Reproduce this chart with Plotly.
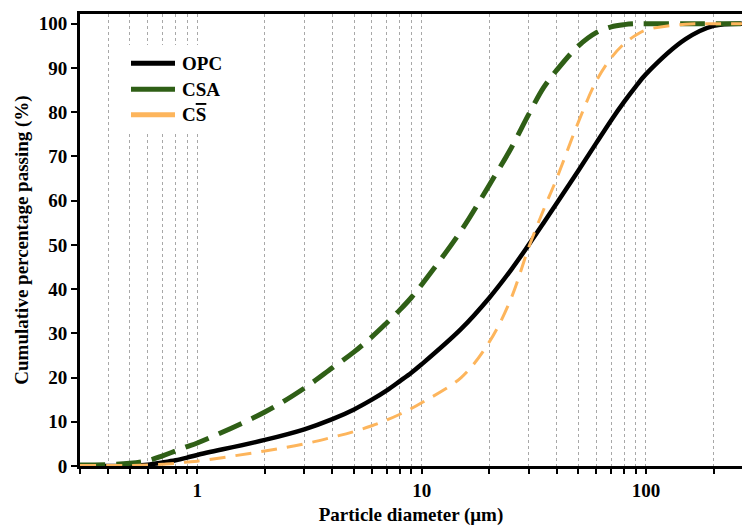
import plotly.graph_objects as go

diam = [0.3, 0.4, 0.5, 0.6, 0.7, 0.8, 0.9, 1, 2, 3, 4, 5, 6, 7, 8, 9, 10,
        15, 20, 25, 30, 35, 40, 50, 60, 70, 80, 90, 100, 150, 200, 268]
opc = [0, 0, 0, 0.3, 0.8, 1.3, 1.9, 2.5, 5.9, 8.3, 10.6, 12.8, 15.0, 17.1, 19.2, 21.1, 23,
       31, 38, 44.3, 50, 55, 59.4, 66.8, 73, 78.2, 82.4, 85.8, 88.6, 96.5, 99.5, 100]
csa = [0.2, 0.3, 0.6, 1.2, 2.3, 3.4, 4.4, 5.2, 12.2, 17.6, 22.2, 25.8, 29.2, 32.4, 35.3, 38.1, 41,
       53.2, 63.5, 71.8, 79.5, 85.6, 89.5, 95, 98, 99.3, 99.8, 100, 100, 100, 100, 100]
cs = [0.1, 0.1, 0.1, 0.2, 0.4, 0.6, 0.9, 1.1, 3.4, 5, 6.5, 7.8, 9.1, 10.4, 11.7, 13.0, 14.3,
      20, 28, 37.8, 49.4, 58, 65, 77.8, 87, 92.3, 95.5, 97.4, 98.6, 99.9, 100, 100]

names = ["OPC", "CSA", "CS"]
colors = ["#000000", "#2F5F16", "#FDB55C"]
widths = [4.5, 5, 3]
dashes = ["solid", "25px,11px", "16px,10px"]

x_ticks = [0.3, 0.4, 0.5, 0.6, 0.7, 0.8, 0.9, 1, 2, 3, 4, 5, 6, 7, 8, 9, 10,
           20, 30, 40, 50, 60, 70, 80, 90, 100, 200]
x_labels = {1: "1", 10: "10", 100: "100"}
y_ticks = [0, 10, 20, 30, 40, 50, 60, 70, 80, 90, 100]

FONT = "Liberation Serif"

fig = go.Figure()
for name, ys, c, w, d in zip(names, [opc, csa, cs], colors, widths, dashes):
    fig.add_trace(go.Scatter(x=diam, y=ys, mode="lines", name=name,
                             line=dict(color=c, width=w, dash=d, shape="spline", smoothing=1.0),
                             showlegend=False))

fig.update_layout(
    width=742, height=527,
    margin=dict(l=80, r=0, t=14, b=61),
    paper_bgcolor="white", plot_bgcolor="white",
    font=dict(family=FONT, size=19, color="black"),
    xaxis=dict(
        type="log", range=[-0.5229, 2.428],
        tickvals=x_ticks,
        ticktext=[x_labels.get(v, "") for v in x_ticks],
        tickfont=dict(family=FONT, size=19, weight="bold"),
        ticks="outside", ticklen=5, tickwidth=2, tickcolor="black",
        showline=True, linecolor="black", linewidth=3, mirror=True,
        showgrid=True, gridcolor="#a8a8a8", gridwidth=1, griddash="dot",
        zeroline=False,
        title=dict(text="Particle diameter (μm)", font=dict(family=FONT, size=19, weight="bold"), standoff=8),
    ),
    yaxis=dict(
        range=[0, 102.2],
        tickvals=y_ticks,
        tickfont=dict(family=FONT, size=19, weight="bold"),
        ticks="outside", ticklen=6, tickwidth=2, tickcolor="black",
        showline=True, linecolor="black", linewidth=3, mirror=False,
        showgrid=False, zeroline=False,
        title=dict(text="Cumulative percentage passing (%)", font=dict(family=FONT, size=19, weight="bold"), standoff=6),
    ),
)

# legend (manual, solid sample lines on white box)
W, H = 662.0, 452.0
def px(xp):
    return (xp - 80) / W
def py(yp):
    return (466 - yp) / H

shapes = [dict(type="rect", xref="paper", yref="paper", x0=px(113), x1=px(258), y0=py(132), y1=py(45),
               fillcolor="white", line=dict(width=0), layer="above")]
ann = []
label_html = ["OPC", "CSA", "C<span style='text-decoration:overline'>S</span>"]
for i, (c, lab) in enumerate(zip(colors, label_html)):
    yy = [63.3, 89.3, 114.7][i]
    shapes.append(dict(type="line", xref="paper", yref="paper", x0=px(131), x1=px(175), y0=py(yy), y1=py(yy),
                       line=dict(color=c, width=5), layer="above"))
    ann.append(dict(xref="paper", yref="paper", x=px(180), y=py(yy), xanchor="left", yanchor="middle",
                    text=lab, showarrow=False, font=dict(family=FONT, size=19, weight="bold", color="black")))
fig.update_layout(shapes=shapes, annotations=ann)

fig.write_html("out.html")
